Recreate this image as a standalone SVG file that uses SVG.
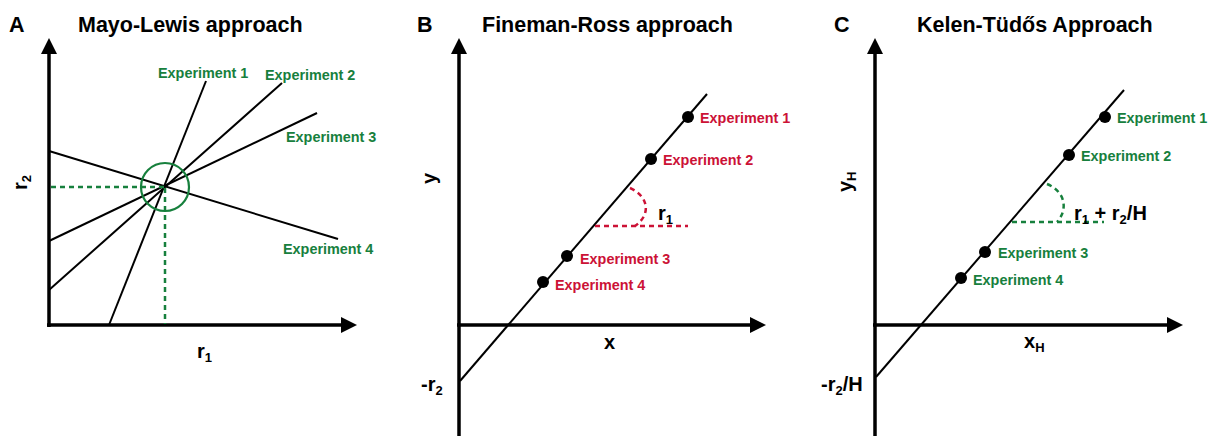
<svg xmlns="http://www.w3.org/2000/svg" width="1208" height="436" viewBox="0 0 1208 436">
<defs>
<marker id="arr" viewBox="0 0 16 16" markerWidth="16" markerHeight="16" markerUnits="userSpaceOnUse" refX="1" refY="8" orient="auto">
<path d="M0,0 L16,8 L0,16 z" fill="#000"/>
</marker>
<style>
text{font-family:"Liberation Sans",Arial,sans-serif;font-weight:bold;}
.title{font-size:21.5px;fill:#000;}
.lab{font-size:20px;fill:#000;}
.sub{font-size:13px;}
.exg{font-size:14.4px;fill:#17803d;}
.exr{font-size:14.4px;fill:#cc1236;}
.axis{stroke:#000;stroke-width:3.5;fill:none;}
.ln{stroke:#000;stroke-width:2;fill:none;}
.dg{stroke:#17803d;stroke-width:2.5;stroke-dasharray:5,4;fill:none;}
.dr{stroke:#cc1236;stroke-width:2.5;stroke-dasharray:5,4;fill:none;}
.dot{fill:#000;}
</style>
</defs>

<g id="panelA">
<text class="title" x="9" y="32">A</text>
<text class="title" x="78" y="32">Mayo-Lewis approach</text>
<g id="axesA">
<line class="axis" x1="49" y1="327" x2="49" y2="53" marker-end="url(#arr)"/>
<line class="axis" x1="47" y1="325" x2="342" y2="325" marker-end="url(#arr)"/>
</g>
<text class="lab" transform="translate(27,190) rotate(-90)">r<tspan class="sub" dy="4">2</tspan></text>
<text class="lab" x="197" y="358">r<tspan class="sub" dy="4">1</tspan></text>
<g id="linesA">
<line class="ln" x1="206" y1="81" x2="109" y2="325"/>
<line class="ln" x1="282" y1="83" x2="49" y2="290"/>
<line class="ln" x1="317" y1="113" x2="49" y2="241"/>
<line class="ln" x1="49" y1="151" x2="338" y2="239"/>
</g>
<g id="intersectA">
<circle cx="165" cy="187" r="24" fill="none" stroke="#17803d" stroke-width="2.2"/>
<line class="dg" x1="51" y1="187" x2="164" y2="187"/>
<line class="dg" x1="165" y1="188" x2="165" y2="324"/>
</g>
<text class="exg" x="158" y="78">Experiment 1</text>
<text class="exg" x="265" y="80">Experiment 2</text>
<text class="exg" x="286" y="142">Experiment 3</text>
<text class="exg" x="283" y="254">Experiment 4</text>
</g>

<g id="panelB">
<text class="title" x="417" y="32">B</text>
<text class="title" x="482" y="32">Fineman-Ross approach</text>
<g id="axesB">
<line class="axis" x1="459" y1="436" x2="459" y2="53" marker-end="url(#arr)"/>
<line class="axis" x1="457" y1="325" x2="751" y2="325" marker-end="url(#arr)"/>
</g>
<text class="lab" transform="translate(436,184) rotate(-90)">y</text>
<text class="lab" x="604" y="349">x</text>
<text class="lab" x="421" y="391">-r<tspan class="sub" dy="4">2</tspan></text>
<line class="ln" x1="460" y1="381" x2="707" y2="94"/>
<path class="dr" d="M630,188 C648,196 652,214 635,226"/>
<line class="dr" x1="595" y1="226" x2="688" y2="226"/>
<text class="lab" x="658" y="220">r<tspan class="sub" dy="4">1</tspan></text>
<g id="ptsB">
<circle class="dot" cx="688" cy="117" r="6"/>
<circle class="dot" cx="651" cy="159" r="6"/>
<circle class="dot" cx="567" cy="256" r="6"/>
<circle class="dot" cx="543" cy="282" r="6"/>
</g>
<text class="exr" x="700" y="123">Experiment 1</text>
<text class="exr" x="663" y="165">Experiment 2</text>
<text class="exr" x="580" y="264">Experiment 3</text>
<text class="exr" x="555" y="290">Experiment 4</text>
</g>

<g id="panelC">
<text class="title" x="834" y="32">C</text>
<text class="title" x="917" y="32">Kelen-Tüdős Approach</text>
<g id="axesC">
<line class="axis" x1="875" y1="436" x2="875" y2="53" marker-end="url(#arr)"/>
<line class="axis" x1="873" y1="325" x2="1168" y2="325" marker-end="url(#arr)"/>
</g>
<text class="lab" transform="translate(852,192) rotate(-90)">y<tspan class="sub" dy="4">H</tspan></text>
<text class="lab" x="1024" y="348">x<tspan class="sub" dy="4">H</tspan></text>
<text class="lab" x="821" y="391">-r<tspan class="sub" dy="4">2</tspan><tspan dy="-4">/H</tspan></text>
<line class="ln" x1="876" y1="377" x2="1124" y2="90"/>
<path class="dg" d="M1047,184 C1066,192 1068,210 1057,222"/>
<line class="dg" x1="1012" y1="222" x2="1104" y2="222"/>
<text class="lab" x="1074" y="220">r<tspan class="sub" dy="4">1</tspan><tspan dy="-4"> + r</tspan><tspan class="sub" dy="4">2</tspan><tspan dy="-4">/H</tspan></text>
<g id="ptsC">
<circle class="dot" cx="1105" cy="117" r="6"/>
<circle class="dot" cx="1069" cy="155" r="6"/>
<circle class="dot" cx="985" cy="252" r="6"/>
<circle class="dot" cx="961" cy="278" r="6"/>
</g>
<text class="exg" x="1117" y="123">Experiment 1</text>
<text class="exg" x="1081" y="161">Experiment 2</text>
<text class="exg" x="998" y="258">Experiment 3</text>
<text class="exg" x="973" y="285">Experiment 4</text>
</g>
</svg>
